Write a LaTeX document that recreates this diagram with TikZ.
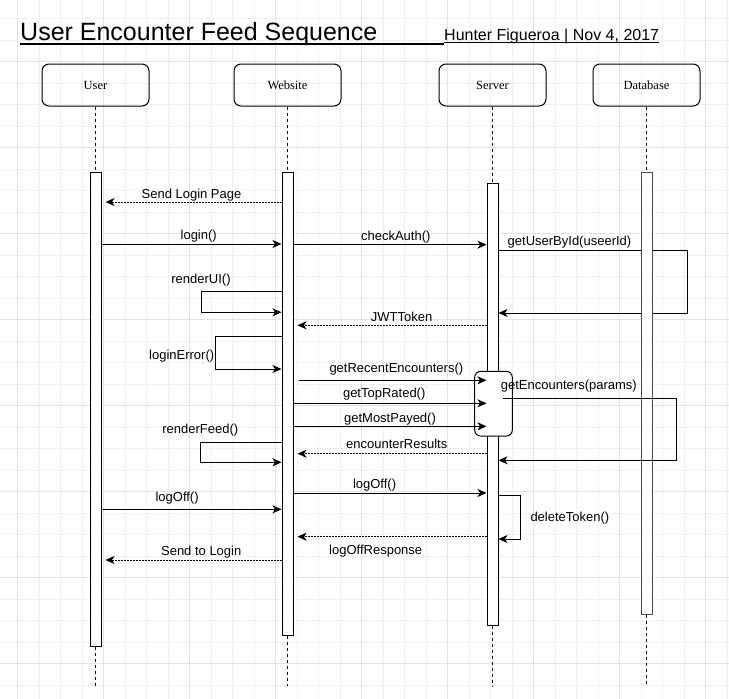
\documentclass[tikz,border=0pt]{standalone}
\usepackage{fontspec}
\setmainfont{Liberation Serif}
\newfontfamily\msgfont{Liberation Sans}
\usepackage{tikz}
\usetikzlibrary{arrows.meta}
\tikzset{
  actor/.style={rectangle, draw, line width=1pt, rounded corners=7pt, minimum width=107pt, minimum height=42pt, font=\fontsize{12.5}{14}\selectfont},
  bar/.style={rectangle, draw, fill=white, line width=1pt, minimum width=11pt, inner sep=0pt},
  subbar/.style={rectangle, draw, fill=white, line width=1pt, rounded corners=6pt, minimum width=37.6pt, minimum height=64.7pt},
  life/.style={dash pattern=on 3pt off 3pt, line width=1pt},
  call/.style={-{Stealth[length=9pt,width=8pt,inset=2.5pt]}, line width=1pt},
  reply/.style={call, dash pattern=on 1.2pt off 1.8pt, shorten >=4pt},
  lbl/.style={font=\msgfont\fontsize{13}{15}\selectfont, inner sep=1pt},
  gridline/.style={line width=0.8pt}
}
\newcommand{\sdactor}[3] {\node at (#1) (#2) [actor] {#3};}
\newcommand{\sdbar}[4] {\node at (#1) (#2) [bar, minimum height=#3pt, #4] {};}
\newcommand{\sdlifeline}[3] {\draw [life] (#1.south) -- (#2.north); \draw [life] (#2.south) -- (#3);}
\newcommand{\sdcall}[4] {\draw [call] (#1) -- (#2) node [lbl, #4] {#3};}
\newcommand{\sdreply}[4] {\draw [reply] (#1) -- (#2) node [lbl, #4] {#3};}
\newcommand{\sdloop}[6] {\draw [call] (#1) -- (#2) node [lbl, #6] {#5} -- (#3) -- (#4);}

\begin{document}
\begin{tikzpicture}[x=1pt, y=-1pt]
\useasboundingbox (0,0) rectangle (729,699);

\begin{scope}[shift={(17.5,18.5)}]
\draw [gridline, gray!12, step=21.5pt] (-17.5,-18.5) grid (711.5,680.5);
\end{scope}
\begin{scope}[shift={(17.5,61.5)}]
\draw [gridline, gray!22, step=86pt] (-17.5,-61.5) grid (711.5,637.5);
\end{scope}

\node at (20,40) (title) [anchor=base west, inner sep=0pt, font=\msgfont\fontsize{25}{30}\selectfont] {User Encounter Feed Sequence};
\draw [line width=2pt] ([yshift=-3.5pt]title.base west) -- ++(424,0);
\node at (444,40) (author) [anchor=base west, inner sep=0pt, font=\msgfont\fontsize{16}{19}\selectfont] {Hunter Figueroa | Nov 4, 2017};
\draw [line width=1pt] ([yshift=-2.5pt]author.base west) -- ([yshift=-2.5pt]author.base east);

\sdactor {95.5,85}{user}{User}
\sdactor {287.5,85}{web}{Website}
\sdactor {492.5,85}{server}{Server}
\sdactor {646.5,85}{db}{Database}

\sdbar {95.5,409}{userbar}{474}{}
\sdbar {287.5,403.5}{webbar}{463}{}
\sdbar {492.5,404}{serverbar}{442}{}

\coordinate (getuser1) at (687.3,250);
\coordinate (getuser2) at (687.3,313);
\sdloop {serverbar.east |- getuser1}{getuser1}{getuser2}{serverbar.east |- getuser2}{getUserById(useerId)}{pos=0.376, above}

\sdbar {646.5,393}{dbbar}{442}{draw=black!70}

\coordinate (userend) at (95.5,686);
\coordinate (webend) at (287.5,686);
\coordinate (serverend) at (492.5,686);
\coordinate (dbend) at (646.5,686);
\sdlifeline {user}{userbar}{userend}
\sdlifeline {web}{webbar}{webend}
\sdlifeline {server}{serverbar}{serverend}
\sdlifeline {db}{dbbar}{dbend}

\sdreply {webbar.west |- 0,202}{userbar.east |- 0,202}{Send Login Page}{midway, above, yshift=-1pt}
\sdcall {userbar.east |- 0,244}{webbar.west |- 0,244}{login()}{pos=0.54, above}
\sdcall {webbar.east |- 0,244.7}{serverbar.west |- 0,244.7}{checkAuth()}{pos=0.53, above}

\coordinate (renderui1) at (201,291.7);
\coordinate (renderui2) at (201,312.3);
\sdloop {webbar.west |- renderui1}{renderui1}{renderui2}{webbar.west |- renderui2}{renderUI()}{pos=1, above, yshift=4pt}

\sdreply {serverbar.west |- 0,325.3}{webbar.east |- 0,325.3}{JWTToken}{pos=0.44, above, yshift=2pt}

\coordinate (loginerr1) at (215.7,336.3);
\coordinate (loginerr2) at (215.7,369);
\sdloop {webbar.west |- loginerr1}{loginerr1}{loginerr2}{webbar.west |- loginerr2}{loginError()}{pos=1, anchor=east, yshift=-20pt}

\node at (493.5,403.7) (encbox) [subbar] {};

\coordinate (recent0) at (298.7,380.3);
\sdcall {recent0}{serverbar.west |- recent0}{getRecentEncounters()}{pos=0.52, above, yshift=4pt}
\sdcall {webbar.east |- 0,403.3}{serverbar.west |- 0,403.3}{getTopRated()}{pos=0.47, above, yshift=2pt}
\sdcall {webbar.east |- 0,426.3}{serverbar.west |- 0,426.3}{getMostPayed()}{pos=0.5, above}

\coordinate (getenc0) at (503.3,398.7);
\coordinate (getenc1) at (676.7,398.7);
\coordinate (getenc2) at (676.7,460.3);
\sdloop {getenc0}{getenc1}{getenc2}{serverbar.east |- getenc2}{getEncounters(params)}{pos=0.378, above, yshift=5pt}

\sdreply {serverbar.west |- 0,453.7}{webbar.east |- 0,453.7}{encounterResults}{pos=0.465, above, yshift=4pt}

\coordinate (renderfeed1) at (200.3,442.7);
\coordinate (renderfeed2) at (200.3,462.3);
\sdloop {webbar.west |- renderfeed1}{renderfeed1}{renderfeed2}{webbar.west |- renderfeed2}{renderFeed()}{pos=1, above, yshift=5pt}

\sdcall {webbar.east |- 0,493}{serverbar.west |- 0,493}{logOff()}{pos=0.42, above}
\sdcall {userbar.east |- 0,509.3}{webbar.west |- 0,509.3}{logOff()}{pos=0.42, above, yshift=4pt}

\coordinate (deltoken1) at (520,495.3);
\coordinate (deltoken2) at (520,539);
\sdloop {serverbar.east |- deltoken1}{deltoken1}{deltoken2}{serverbar.east |- deltoken2}{deleteToken()}{pos=1, anchor=west, xshift=9pt, yshift=-23pt}

\sdreply {serverbar.west |- 0,536.7}{webbar.east |- 0,536.7}{logOffResponse}{pos=0.574, below, yshift=-7pt}
\sdreply {webbar.west |- 0,560}{userbar.east |- 0,560}{Send to Login}{pos=0.446, above}

\end{tikzpicture}
\end{document}
